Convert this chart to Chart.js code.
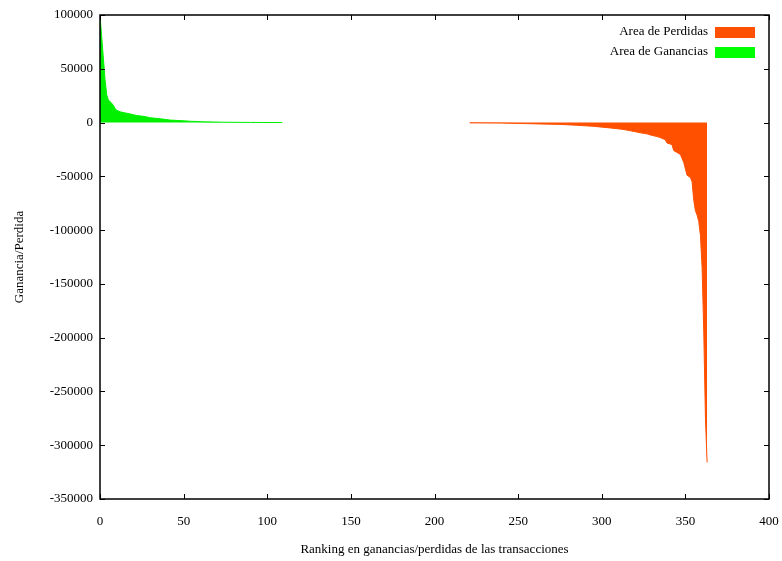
<!DOCTYPE html>
<html>
<head>
<meta charset="utf-8">
<script src="https://cdn.jsdelivr.net/npm/chart.js@4"></script>
<style>
  body { margin: 0; background: #fff; }
  #box { width: 782px; height: 561px; }
</style>
</head>
<body>
<div id="box"><canvas id="chart"></canvas></div>
<script>
const ctx = document.getElementById("chart");

// ganancias (ranking -> valor)
const gainRank = [0, 1, 2, 3, 4, 5, 6, 7, 8, 9, 10, 12, 15, 18, 22, 26, 30, 36, 42, 48, 54, 62, 74, 90, 109];
const gainValue = [99000, 80000, 60000, 40000, 26000, 21000, 19500, 18000, 16000, 13000, 11500, 10000, 9000, 8000, 6500, 5800, 4500, 3500, 2300, 1800, 1200, 700, 300, 100, 0];

// perdidas (ranking -> valor)
const lossRank = [221, 240, 255, 275, 285, 295, 305, 312, 315, 320, 323, 327, 329, 333, 335, 338, 339, 342, 343, 347, 349, 351, 353, 354, 355, 356, 357, 358, 359, 360, 361, 362, 363];
const lossValue = [-300, -500, -1000, -1700, -2500, -3500, -5000, -6200, -7000, -8500, -9500, -10500, -11500, -13000, -14000, -16000, -19000, -20500, -26000, -29600, -37000, -49000, -51000, -55000, -72000, -82000, -86000, -92000, -105000, -135000, -195000, -275000, -316000];

const xTicks = [0, 50, 100, 150, 200, 250, 300, 350, 400];
const yTicks = [-350000, -300000, -250000, -200000, -150000, -100000, -50000, 0, 50000, 100000];

const legendLabels = ["Area de Perdidas", "Area de Ganancias"];
const lossColor = "#ff5000";
const gainColor = "#00f000";

Chart.defaults.font.family = "'Liberation Serif', 'DejaVu Serif', serif";
Chart.defaults.font.size = 13;
Chart.defaults.color = "#000";

function toPoints(xs, ys) {
  let pts = [];
  for (let i = 0; i < xs.length; i++) {
    pts.push({ x: xs[i], y: ys[i] });
  }
  return pts;
}

// gnuplot style frame: border all round, ticks pointing inward, legend top right
const gnuplotFrame = {
  id: "gnuplotFrame",
  afterDraw(chart) {
    const c = chart.ctx;
    const a = chart.chartArea;
    const xs = chart.scales.x;
    const ys = chart.scales.y;
    const t = 5;
    c.save();
    c.strokeStyle = "#000";
    c.lineWidth = 1;
    c.beginPath();
    xTicks.forEach((v) => {
      const px = Math.round(xs.getPixelForValue(v)) + 0.5;
      c.moveTo(px, a.bottom); c.lineTo(px, a.bottom - t);
      c.moveTo(px, a.top); c.lineTo(px, a.top + t);
    });
    yTicks.forEach((v) => {
      const py = Math.round(ys.getPixelForValue(v)) + 0.5;
      c.moveTo(a.left, py); c.lineTo(a.left + t, py);
      c.moveTo(a.right, py); c.lineTo(a.right - t, py);
    });
    c.stroke();
    c.lineWidth = 1.5;
    c.strokeRect(a.left, a.top, a.right - a.left, a.bottom - a.top);

    // legend
    const colors = [lossColor, "#00ff00"];
    c.font = "13px 'Liberation Serif', serif";
    c.textAlign = "right";
    c.textBaseline = "middle";
    for (let i = 0; i < legendLabels.length; i++) {
      const cy = 32 + i * 20;
      c.fillStyle = "#000";
      c.fillText(legendLabels[i], 708, cy);
      c.fillStyle = colors[i];
      c.fillRect(715, cy - 5, 40, 11);
    }
    c.restore();
  },
};

function createChart() {
  new Chart(ctx, {
    type: "line",
    data: {
      datasets: [
        {
          label: legendLabels[1],
          data: toPoints(gainRank, gainValue),
          borderColor: gainColor,
          backgroundColor: gainColor,
          borderWidth: 1,
          pointRadius: 0,
          fill: "origin",
          tension: 0,
        },
        {
          label: legendLabels[0],
          data: toPoints(lossRank, lossValue),
          borderColor: lossColor,
          backgroundColor: lossColor,
          borderWidth: 1,
          pointRadius: 0,
          fill: "origin",
          tension: 0,
        },
      ],
    },
    options: {
      responsive: true,
      maintainAspectRatio: false,
      animation: false,
      layout: { padding: { top: 15, right: 13, left: 0, bottom: 0 } },
      plugins: {
        legend: { display: false },
        tooltip: { enabled: false },
      },
      scales: {
        x: {
          type: "linear",
          min: 0,
          max: 400,
          afterFit: (s) => { s.height = 62; s.paddingLeft = 0; s.paddingRight = 0; },
          afterBuildTicks: (s) => { s.ticks = xTicks.map((v) => ({ value: v })); },
          grid: { display: false, drawTicks: false },
          border: { display: false },
          ticks: { padding: 15, callback: (v) => String(v) },
          title: {
            display: true,
            text: "Ranking en ganancias/perdidas de las transacciones",
            padding: { top: 0, bottom: 4 },
          },
        },
        y: {
          type: "linear",
          min: -350000,
          max: 100000,
          afterFit: (s) => { s.width = 100; s.paddingTop = 0; s.paddingBottom = 0; },
          afterBuildTicks: (s) => { s.ticks = yTicks.map((v) => ({ value: v })); },
          grid: { display: false, drawTicks: false },
          border: { display: false },
          ticks: { padding: 7, callback: (v) => String(v) },
          title: {
            display: true,
            text: "Ganancia/Perdida",
            padding: { top: 12, bottom: 0 },
          },
        },
      },
    },
    plugins: [gnuplotFrame],
  });
}

createChart();
</script>
</body>
</html>
